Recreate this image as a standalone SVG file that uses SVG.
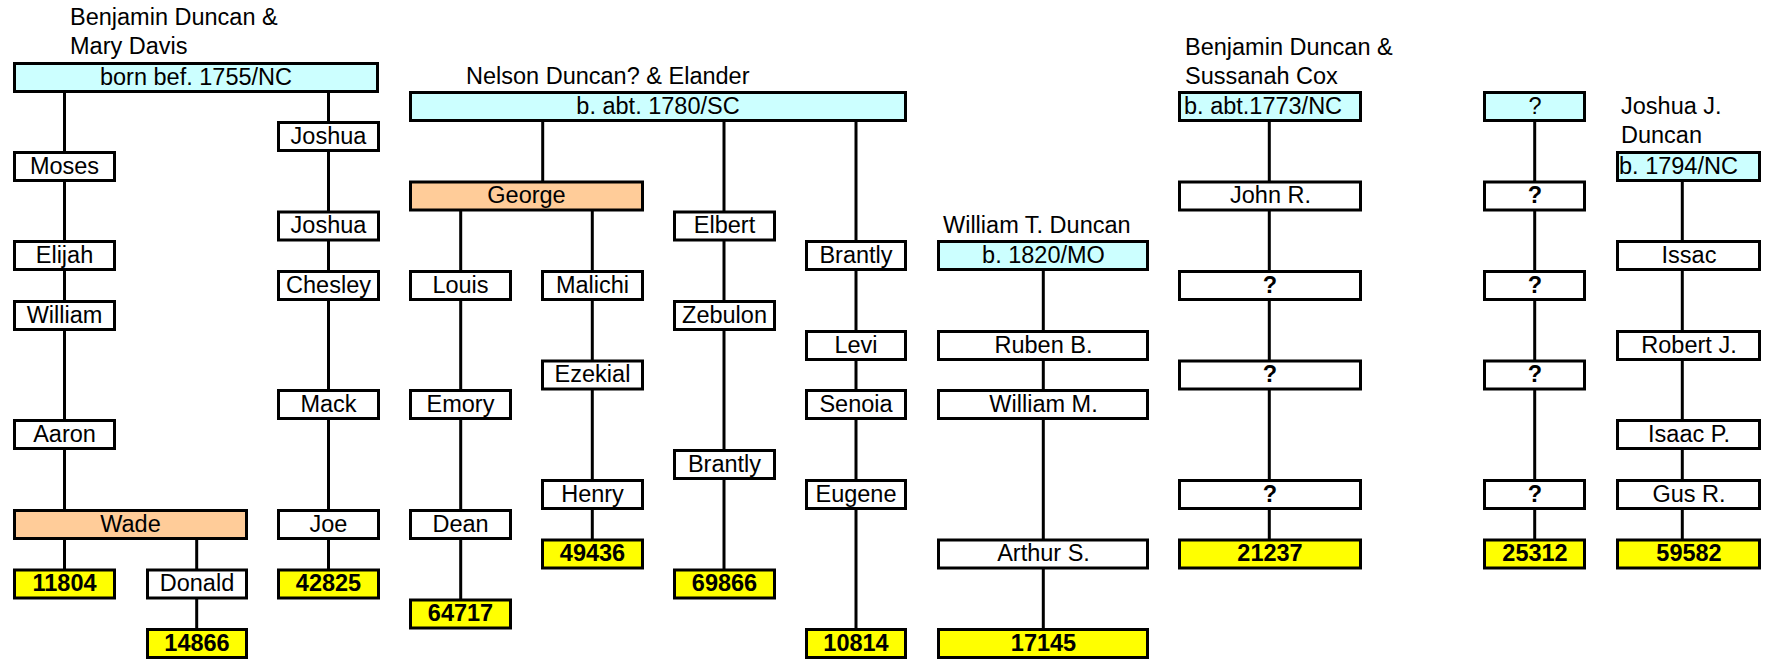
<svg xmlns="http://www.w3.org/2000/svg" width="1769" height="659" viewBox="0 0 1769 659">
<style>
rect{stroke:#000;stroke-width:3}
.w{fill:#fff}.c{fill:#ccffff}.o{fill:#ffcc99}.y{fill:#ffff00}
text{font-family:"Liberation Sans",Arial,sans-serif;font-size:23.5px;fill:#000}
.m{text-anchor:middle}
.n{font-weight:bold}
#links line{stroke:#000;stroke-width:3}
</style>
<rect x="0" y="0" width="1769" height="659" style="fill:#fff;stroke:none"/>
<g id="links">
<line x1="64.5" y1="93" x2="64.5" y2="569"/>
<line x1="196.7" y1="540" x2="196.7" y2="629"/>
<line x1="328.5" y1="93" x2="328.5" y2="569"/>
<line x1="542.7" y1="122" x2="542.7" y2="181"/>
<line x1="460.7" y1="211" x2="460.7" y2="599"/>
<line x1="592.3" y1="211" x2="592.3" y2="539"/>
<line x1="724" y1="122" x2="724" y2="569"/>
<line x1="856" y1="122" x2="856" y2="629"/>
<line x1="1043.3" y1="271" x2="1043.3" y2="629"/>
<line x1="1269.3" y1="122" x2="1269.3" y2="539"/>
<line x1="1534.7" y1="122" x2="1534.7" y2="539"/>
<line x1="1682.3" y1="182" x2="1682.3" y2="539"/>
</g>
<g id="labels">
<text x="70" y="25">Benjamin Duncan &amp;</text>
<text x="70" y="54">Mary Davis</text>
<text x="466" y="84">Nelson Duncan? &amp; Elander</text>
<text x="943" y="233">William T. Duncan</text>
<text x="1185" y="55">Benjamin Duncan &amp;</text>
<text x="1185" y="84">Sussanah Cox</text>
<text x="1621" y="114">Joshua J.</text>
<text x="1621" y="143">Duncan</text>
</g>
<!-- Benjamin & Mary -->
<g id="n-bm"><rect class="c" x="14.5" y="63.5" width="363" height="28"/><text class="m" x="196" y="84.5">born bef. 1755/NC</text></g>
<g id="n-moses"><rect class="w" x="14.5" y="152.5" width="100" height="28"/><text class="m" x="64.5" y="173.5">Moses</text></g>
<g id="n-elijah"><rect class="w" x="14.5" y="241.5" width="100" height="28"/><text class="m" x="64.5" y="262.5">Elijah</text></g>
<g id="n-william"><rect class="w" x="14.5" y="301.5" width="100" height="28"/><text class="m" x="64.5" y="322.5">William</text></g>
<g id="n-aaron"><rect class="w" x="14.5" y="420.5" width="100" height="28"/><text class="m" x="64.5" y="441.5">Aaron</text></g>
<g id="n-wade"><rect class="o" x="14.5" y="510.5" width="232" height="28"/><text class="m" x="130.5" y="531.5">Wade</text></g>
<g id="n-11804"><rect class="y" x="14.5" y="570" width="100" height="28"/><text class="m n" x="64.5" y="591">11804</text></g>
<g id="n-donald"><rect class="w" x="147.5" y="570" width="99" height="28"/><text class="m" x="197" y="591">Donald</text></g>
<g id="n-14866"><rect class="y" x="147.5" y="629.5" width="99" height="28"/><text class="m n" x="197" y="650.5">14866</text></g>
<g id="n-joshua1"><rect class="w" x="278.5" y="122.5" width="100" height="28"/><text class="m" x="328.5" y="143.5">Joshua</text></g>
<g id="n-joshua2"><rect class="w" x="278.5" y="212" width="100" height="28"/><text class="m" x="328.5" y="233">Joshua</text></g>
<g id="n-chesley"><rect class="w" x="278.5" y="271.5" width="100" height="28"/><text class="m" x="328.5" y="292.5">Chesley</text></g>
<g id="n-mack"><rect class="w" x="278.5" y="390.5" width="100" height="28"/><text class="m" x="328.5" y="411.5">Mack</text></g>
<g id="n-joe"><rect class="w" x="278.5" y="510.5" width="100" height="28"/><text class="m" x="328.5" y="531.5">Joe</text></g>
<g id="n-42825"><rect class="y" x="278.5" y="570" width="100" height="28"/><text class="m n" x="328.5" y="591">42825</text></g>
<!-- Nelson & Elander -->
<g id="n-ne"><rect class="c" x="410.5" y="92.5" width="495" height="28"/><text class="m" x="658" y="113.5">b. abt. 1780/SC</text></g>
<g id="n-george"><rect class="o" x="410.5" y="182" width="232" height="28"/><text class="m" x="526.5" y="203">George</text></g>
<g id="n-louis"><rect class="w" x="410.5" y="271.5" width="100" height="28"/><text class="m" x="460.5" y="292.5">Louis</text></g>
<g id="n-emory"><rect class="w" x="410.5" y="390.5" width="100" height="28"/><text class="m" x="460.5" y="411.5">Emory</text></g>
<g id="n-dean"><rect class="w" x="410.5" y="510.5" width="100" height="28"/><text class="m" x="460.5" y="531.5">Dean</text></g>
<g id="n-64717"><rect class="y" x="410.5" y="600" width="100" height="28"/><text class="m n" x="460.5" y="621">64717</text></g>
<g id="n-malichi"><rect class="w" x="542.5" y="271.5" width="100" height="28"/><text class="m" x="592.5" y="292.5">Malichi</text></g>
<g id="n-ezekial"><rect class="w" x="542.5" y="361" width="100" height="28"/><text class="m" x="592.5" y="382">Ezekial</text></g>
<g id="n-henry"><rect class="w" x="542.5" y="480.5" width="100" height="28"/><text class="m" x="592.5" y="501.5">Henry</text></g>
<g id="n-49436"><rect class="y" x="542.5" y="540" width="100" height="28"/><text class="m n" x="592.5" y="561">49436</text></g>
<g id="n-elbert"><rect class="w" x="674.5" y="212" width="100" height="28"/><text class="m" x="724.5" y="233">Elbert</text></g>
<g id="n-zebulon"><rect class="w" x="674.5" y="301.5" width="100" height="28"/><text class="m" x="724.5" y="322.5">Zebulon</text></g>
<g id="n-brantly1"><rect class="w" x="674.5" y="450.5" width="100" height="28"/><text class="m" x="724.5" y="471.5">Brantly</text></g>
<g id="n-69866"><rect class="y" x="674.5" y="570" width="100" height="28"/><text class="m n" x="724.5" y="591">69866</text></g>
<g id="n-brantly2"><rect class="w" x="806.5" y="241.5" width="99" height="28"/><text class="m" x="856" y="262.5">Brantly</text></g>
<g id="n-levi"><rect class="w" x="806.5" y="331.5" width="99" height="28"/><text class="m" x="856" y="352.5">Levi</text></g>
<g id="n-senoia"><rect class="w" x="806.5" y="390.5" width="99" height="28"/><text class="m" x="856" y="411.5">Senoia</text></g>
<g id="n-eugene"><rect class="w" x="806.5" y="480.5" width="99" height="28"/><text class="m" x="856" y="501.5">Eugene</text></g>
<g id="n-10814"><rect class="y" x="806.5" y="629.5" width="99" height="28"/><text class="m n" x="856" y="650.5">10814</text></g>
<!-- William T. Duncan -->
<g id="n-wtd"><rect class="c" x="938.5" y="241.5" width="209" height="28"/><text class="m" x="1043.5" y="262.5">b. 1820/MO</text></g>
<g id="n-ruben"><rect class="w" x="938.5" y="331.5" width="209" height="28"/><text class="m" x="1043.5" y="352.5">Ruben B.</text></g>
<g id="n-williamm"><rect class="w" x="938.5" y="390.5" width="209" height="28"/><text class="m" x="1043.5" y="411.5">William M.</text></g>
<g id="n-arthur"><rect class="w" x="938.5" y="540" width="209" height="28"/><text class="m" x="1043.5" y="561">Arthur S.</text></g>
<g id="n-17145"><rect class="y" x="938.5" y="629.5" width="209" height="28"/><text class="m n" x="1043.5" y="650.5">17145</text></g>
<!-- Benjamin & Sussanah -->
<g id="n-bs"><rect class="c" x="1179.5" y="92.5" width="181" height="28"/><text x="1184" y="113.5">b. abt.1773/NC</text></g>
<g id="n-john"><rect class="w" x="1179.5" y="182" width="181" height="28"/><text class="m" x="1270.5" y="203">John R.</text></g>
<g id="n-q1"><rect class="w" x="1179.5" y="271.5" width="181" height="28"/><text class="m n" x="1270" y="292.5">?</text></g>
<g id="n-q2"><rect class="w" x="1179.5" y="361" width="181" height="28"/><text class="m n" x="1270" y="382">?</text></g>
<g id="n-q3"><rect class="w" x="1179.5" y="480.5" width="181" height="28"/><text class="m n" x="1270" y="501.5">?</text></g>
<g id="n-21237"><rect class="y" x="1179.5" y="540" width="181" height="28"/><text class="m n" x="1270" y="561">21237</text></g>
<!-- unknown -->
<g id="n-u"><rect class="c" x="1484.5" y="92.5" width="100" height="28"/><text class="m" x="1535" y="113.5">?</text></g>
<g id="n-u1"><rect class="w" x="1484.5" y="182" width="100" height="28"/><text class="m n" x="1535" y="203">?</text></g>
<g id="n-u2"><rect class="w" x="1484.5" y="271.5" width="100" height="28"/><text class="m n" x="1535" y="292.5">?</text></g>
<g id="n-u3"><rect class="w" x="1484.5" y="361" width="100" height="28"/><text class="m n" x="1535" y="382">?</text></g>
<g id="n-u4"><rect class="w" x="1484.5" y="480.5" width="100" height="28"/><text class="m n" x="1535" y="501.5">?</text></g>
<g id="n-25312"><rect class="y" x="1484.5" y="540" width="100" height="28"/><text class="m n" x="1535" y="561">25312</text></g>
<!-- Joshua J. Duncan -->
<g id="n-jjd"><rect class="c" x="1617.5" y="152.5" width="142" height="28"/><text x="1619" y="173.5">b. 1794/NC</text></g>
<g id="n-issac"><rect class="w" x="1617.5" y="241.5" width="142" height="28"/><text class="m" x="1689" y="262.5">Issac</text></g>
<g id="n-robert"><rect class="w" x="1617.5" y="331.5" width="142" height="28"/><text class="m" x="1689" y="352.5">Robert J.</text></g>
<g id="n-isaacp"><rect class="w" x="1617.5" y="420.5" width="142" height="28"/><text class="m" x="1689" y="441.5">Isaac P.</text></g>
<g id="n-gus"><rect class="w" x="1617.5" y="480.5" width="142" height="28"/><text class="m" x="1689" y="501.5">Gus R.</text></g>
<g id="n-59582"><rect class="y" x="1617.5" y="540" width="142" height="28"/><text class="m n" x="1689" y="561">59582</text></g>
</svg>
